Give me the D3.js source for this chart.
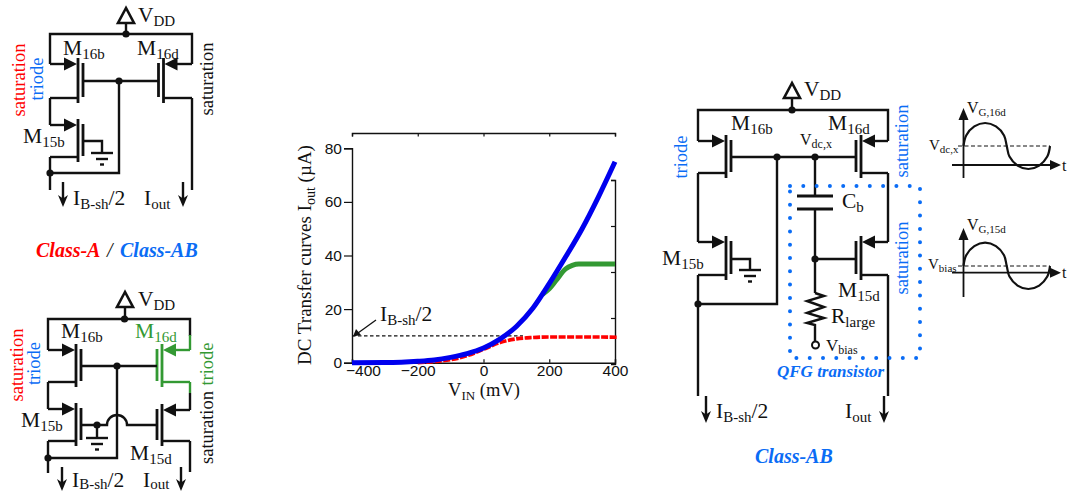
<!DOCTYPE html>
<html>
<head>
<meta charset="utf-8">
<script src="https://cdn.jsdelivr.net/npm/d3@7"></script>
<style>
  html, body { margin: 0; padding: 0; background: #fff; overflow: hidden; }
  svg { display: block; }
</style>
</head>
<body>
<div id="chart"></div>
<script>
// transfer curves (mV, uA)
const vinBlue = [-400, -300, -250, -200, -150, -100, -50, 0, 50, 100, 150, 200, 250, 300, 350, 400];
const iBlue = [0, 0.1, 0.2, 0.5, 1, 2, 3.4, 5.5, 8.8, 13.5, 20.3, 29.5, 39.5, 50, 62, 75];
const vinGreen = [180, 200, 220, 250, 270, 290, 320, 400];
const iGreen = [25.6, 27.6, 30.6, 35, 36.3, 36.8, 36.8, 36.8];
const vinRed = [-200, -150, -100, -50, 0, 50, 100, 150, 200, 300, 408];
const iRed = [0, 0.4, 1.1, 2.6, 5, 7.5, 8.9, 9.4, 9.6, 9.6, 9.5];
const vinBias = [-400, 120];
const iBias = [10, 10];
const xTicks = [-400, -200, 0, 200, 400];
const yTicks = [0, 20, 40, 60, 80];
const rightTicks = [1, 2, 3, 4];

// one period of the sketched gate waveforms, relative amplitude
const wavePhase = [0, 0.25, 1, 2, 3, 3.75, 4, 4.25, 5, 6, 7, 7.75, 8];
const waveValue = [0, 0.46, 0.85, 1, 0.85, 0.46, 0, -0.46, -0.85, -1, -0.85, -0.46, 0];

const width = 1067;
const height = 491;
const RED = "#ff0000";
const BLUE = "#0a6cf5";
const GREEN = "#339933";
const SERIF = "'Liberation Serif', serif";

const svg = d3.select("#chart").append("svg")
  .attr("width", width)
  .attr("height", height)
  .attr("viewBox", [0, 0, width, height]);

svg.append("rect").attr("width", width).attr("height", height).attr("fill", "#fff");

// text with subscripts: parts like ["M", ["16b"]]
function label(x, y, parts, opts = {}) {
  const size = opts.size || 21.5;
  const subSize = opts.subSize || Math.round(size * 0.7);
  const drop = opts.drop || Math.round(size * 0.2);
  const t = svg.append("text")
    .attr("transform", opts.rotate ? `translate(${x},${y}) rotate(-90)` : `translate(${x},${y})`)
    .attr("text-anchor", opts.anchor || "start")
    .attr("font-family", SERIF)
    .attr("font-size", size)
    .attr("font-weight", opts.weight || null)
    .attr("font-style", opts.style || null)
    .attr("fill", opts.color || "#111");
  let shifted = 0;
  parts.forEach((p) => {
    const isSub = Array.isArray(p);
    const want = isSub ? drop : 0;
    t.append("tspan")
      .attr("dy", want - shifted)
      .attr("font-size", isSub ? subSize : size)
      .text(isSub ? p[0] : p);
    shifted = want;
  });
  return t;
}

const vertical = (x, y, text, color) =>
  label(x, y, [text], { size: 18.5, color, rotate: true, anchor: "middle" });

function wire(points, color = "#111", w = 2.4, dash = null) {
  svg.append("path")
    .attr("d", d3.line()(points))
    .attr("fill", "none")
    .attr("stroke", color)
    .attr("stroke-width", w)
    .attr("stroke-dasharray", dash)
    .attr("stroke-linejoin", "miter");
}

function dot(x, y, r = 3.6) {
  svg.append("circle").attr("cx", x).attr("cy", y).attr("r", r).attr("fill", "#111");
}

function triangle(points, color = "#111") {
  svg.append("path").attr("d", d3.line()(points) + "Z").attr("fill", color);
}

// pmos device: x is the channel bar, dir=+1 has gate on the right and rails on the left
function pmos(x, sy, dy, rail, dir, color = "#111") {
  const gx = x + dir * 5;
  wire([[x, sy - 6], [x, dy + 5]], color, 2.8);
  wire([[gx, sy - 1], [gx, dy - 1]], color, 2.8);
  wire([[rail, sy], [x - dir * 10, sy]], color);
  triangle([[x - dir * 1, sy], [x - dir * 14, sy - 6.5], [x - dir * 14, sy + 6.5]], color);
  wire([[rail, dy], [x, dy]], color);
}

function ground(x, y, color = "#111") {
  wire([[x - 11, y], [x + 11, y]], color);
  wire([[x - 6, y + 6], [x + 6, y + 6]], color);
  wire([[x - 2, y + 11.5], [x + 2, y + 11.5]], color);
}

function vdd(x, y) {
  svg.append("path")
    .attr("d", d3.line()([[x, y], [x - 8, y + 15], [x + 8, y + 15]]) + "Z")
    .attr("fill", "#fff").attr("stroke", "#111").attr("stroke-width", 2.6);
}

function downArrow(x, y0, y1) {
  wire([[x, y0], [x, y1 - 6]]);
  triangle([[x, y1], [x - 5, y1 - 12], [x, y1 - 8.5], [x + 5, y1 - 12]]);
}

// ---------- plot ----------
const plot = { left: 352, right: 615, top: 133, bottom: 362.7 };
const x = d3.scaleLinear().domain([-400, 400]).range([plot.left, plot.right]);
const y = d3.scaleLinear().domain([0, 80]).range([plot.bottom, 148.3]);
const yRight = d3.scaleLinear().domain([0, 4]).range([364, 180]);

const fontAxis = (g) => g.selectAll("text")
  .attr("font-family", "'Liberation Sans', Arial, sans-serif")
  .attr("font-size", 15.5)
  .attr("fill", "#111");

const axisBottom = svg.append("g")
  .attr("transform", `translate(0,${plot.bottom})`)
  .call(d3.axisBottom(x).tickValues(xTicks).tickSize(-3.5).tickFormat(d3.format("d")))
  .call(fontAxis);
axisBottom.selectAll("text")
  .attr("y", 13.5)
  .attr("dy", 0)
  .attr("dx", (d) => (d === -400 ? 11 : 0));
const axisLeft = svg.append("g")
  .attr("transform", `translate(${plot.left},0)`)
  .call(d3.axisLeft(y).tickValues(yTicks).tickSize(8).tickPadding(2))
  .call(fontAxis);
const axisTop = svg.append("g")
  .attr("transform", `translate(0,${plot.top})`)
  .call(d3.axisTop(x).tickValues(xTicks).tickSize(-3.5).tickFormat(""));
const axisRight = svg.append("g")
  .attr("transform", `translate(${plot.right},0)`)
  .call(d3.axisRight(yRight).tickValues(rightTicks).tickSize(-4).tickFormat(""));
[axisBottom, axisLeft, axisTop, axisRight].forEach((a) => {
  a.selectAll("line").attr("stroke", "#111").attr("stroke-width", 1.2);
  a.select(".domain").attr("stroke", "#111").attr("stroke-width", 1.4);
});

const curve = (xs, ys) => d3.line().curve(d3.curveMonotoneX)
  .x((d) => x(d))
  .y((d, i) => y(ys[i]))(xs);

svg.append("path").attr("d", curve(vinBias, iBias))
  .attr("fill", "none").attr("stroke", "#111").attr("stroke-width", 1.1).attr("stroke-dasharray", "3.5 2.5");
svg.append("path").attr("d", curve(vinRed, iRed))
  .attr("fill", "none").attr("stroke", RED).attr("stroke-width", 3.6).attr("stroke-dasharray", "7 1.5");
svg.append("path").attr("d", curve(vinGreen, iGreen))
  .attr("fill", "none").attr("stroke", GREEN).attr("stroke-width", 5);
svg.append("path").attr("d", curve(vinBlue, iBlue))
  .attr("fill", "none").attr("stroke", "#0000ee").attr("stroke-width", 5);

label(380, 321, ["I", ["B-sh"], "/2"], { size: 21.5, subSize: 15 });
wire([[376, 320], [358, 333]], "#111", 1.3);
triangle([[353, 336.5], [356, 329], [361, 335]]);

label(484, 396, ["V", ["IN"], " (mV)"], { size: 18.5, subSize: 13, anchor: "middle" });
label(311, 255, ["DC Transfer curves I", ["out"], " (\u00b5A)"], { size: 19, subSize: 14, rotate: true, anchor: "middle" });

// ---------- top-left mirror ----------
vdd(126, 8);
wire([[126, 23], [126, 34]]);
wire([[50, 64], [50, 34], [192, 34], [192, 64]]);
dot(126, 34);
pmos(78, 64, 98, 50, 1);
pmos(163.5, 64, 98, 192, -1);
wire([[83, 81], [158.5, 81]]);
dot(119, 81);
wire([[119, 81], [119, 173], [50, 173]]);
pmos(78, 125, 157, 50, 1);
wire([[50, 98], [50, 125]]);
wire([[50, 157], [50, 190]]);
dot(50, 173);
wire([[83, 141], [102, 141], [102, 153]]);
ground(102, 153);
wire([[192, 98], [192, 190]]);
downArrow(63, 182, 207);
downArrow(183, 182, 207);
label(63, 55, ["M", ["16b"]]);
label(137, 55, ["M", ["16d"]]);
label(23, 143, ["M", ["15b"]]);
label(138, 22, ["V", ["DD"]]);
label(73, 205, ["I", ["B-sh"], "/2"]);
label(144, 205, ["I", ["out"]]);
vertical(25, 80, "saturation", RED);
vertical(43, 79, "triode", BLUE);
vertical(213, 79, "saturation", "#111");
label(36, 257, ["Class-A"], { size: 20, weight: "bold", style: "italic", color: RED });
label(107, 257, ["/"], { size: 20, style: "italic" });
label(120, 257, ["Class-AB"], { size: 20, weight: "bold", style: "italic", color: BLUE });

// ---------- bottom-left mirror ----------
vdd(125, 292);
wire([[125, 307], [125, 319]]);
wire([[48, 350], [48, 319], [190, 319], [190, 336]]);
dot(124.5, 319);
pmos(76, 350, 382, 48, 1);
pmos(162, 350, 382, 190, -1, GREEN);
wire([[190, 335], [190, 350]], GREEN);
wire([[190, 382], [190, 393]], GREEN);
wire([[81, 366], [157, 366]]);
dot(117, 366);
wire([[117, 366], [117, 458], [48, 458]]);
pmos(76, 409, 441, 48, 1);
wire([[48, 382], [48, 409]]);
wire([[48, 441], [48, 473]]);
dot(48, 458);
pmos(162, 410, 441, 190, -1);
wire([[190, 393], [190, 410]]);
wire([[190, 441], [190, 472]]);
svg.append("path")
  .attr("d", "M81,425H107A10,10 0 0 1 127,425H157")
  .attr("fill", "none").attr("stroke", "#111").attr("stroke-width", 2.4);
dot(97, 425);
wire([[97, 425], [97, 438]]);
ground(97, 438);
downArrow(62, 467, 491);
downArrow(181, 467, 491);
label(61, 338, ["M", ["16b"]]);
label(135, 338, ["M", ["16d"]], { color: GREEN });
label(21, 427, ["M", ["15b"]]);
label(130, 460, ["M", ["15d"]]);
label(138, 306, ["V", ["DD"]]);
label(72, 487, ["I", ["B-sh"], "/2"], { drop: 2 });
label(143, 487, ["I", ["out"]], { drop: 2 });
vertical(23, 365, "saturation", RED);
vertical(40, 363.5, "triode", BLUE);
vertical(213, 427.5, "saturation", "#111");
vertical(213, 364, "triode", GREEN);

// ---------- Class-AB with QFG transistor ----------
vdd(792, 83);
wire([[792, 98], [792, 110]]);
wire([[698, 141], [698, 110], [888, 110], [888, 141]]);
dot(792, 110);
pmos(726, 141, 173, 698, 1);
pmos(861, 141, 173, 888, -1);
wire([[731, 157], [856, 157]]);
dot(777, 157);
dot(815, 157);
wire([[777, 157], [777, 304], [698, 304]]);
pmos(726, 242, 275, 698, 1);
wire([[698, 173], [698, 242]]);
wire([[698, 275], [698, 396]]);
dot(698, 304);
wire([[731, 259], [750, 259], [750, 270]]);
ground(750, 270);
pmos(861, 242, 275, 888, -1);
wire([[888, 173], [888, 242]]);
wire([[888, 275], [888, 396]]);
wire([[815, 157], [815, 196]]);
wire([[797, 196], [833, 196]], "#111", 2.8);
wire([[797, 209], [833, 209]], "#111", 2.8);
wire([[815, 209], [815, 293]]);
dot(815, 259);
wire([[815, 259], [856, 259]]);
wire([[815, 293], [824, 296], [807, 301], [824, 307], [807, 313], [824, 318], [807, 323], [815, 325], [815, 341]]);
svg.append("circle").attr("cx", 815.5).attr("cy", 345).attr("r", 3.5)
  .attr("fill", "#fff").attr("stroke", "#111").attr("stroke-width", 2);
svg.append("rect").attr("x", 790).attr("y", 186).attr("width", 130).attr("height", 172)
  .attr("fill", "none").attr("stroke", BLUE).attr("stroke-width", 4)
  .attr("stroke-linecap", "round").attr("stroke-dasharray", "0 13.3");
downArrow(706, 396, 423);
downArrow(884, 396, 423);
label(804, 96, ["V", ["DD"]]);
label(731, 130, ["M", ["16b"]]);
label(828, 130, ["M", ["16d"]]);
label(800, 145, ["V", ["dc,x"]], { size: 16, subSize: 12 });
label(842, 208, ["C", ["b"]]);
label(662, 265, ["M", ["15b"]]);
label(838, 297, ["M", ["15d"]]);
label(831, 323, ["R", ["large"]]);
label(826, 351, ["V", ["bias"]], { size: 17, subSize: 12 });
label(716, 418, ["I", ["B-sh"], "/2"]);
label(845, 418, ["I", ["out"]]);
vertical(687, 157, "triode", BLUE);
vertical(908, 141, "saturation", BLUE);
vertical(908, 258, "saturation", BLUE);
label(777, 377, ["QFG transistor"], { size: 17, weight: "bold", style: "italic", color: BLUE });
label(755, 463, ["Class-AB"], { size: 20, weight: "bold", style: "italic", color: BLUE });

// ---------- gate waveforms ----------
function waveform(axisX, mid, base, top, bottom, peak, trough) {
  wire([[axisX, bottom], [axisX, top + 8]], "#111", 1.8);
  triangle([[axisX, top], [axisX - 5, top + 12], [axisX + 5, top + 12]]);
  wire([[952, base], [1052, base]], "#111", 1.8);
  triangle([[1061, base], [1050, base - 5], [1050, base + 5]]);
  wire([[958, mid], [1050, mid]], "#111", 1.2, "4 2.5");
  const px = d3.scaleLinear().domain([0, 8]).range([axisX, 1050]);
  const py = d3.scaleLinear().domain([-1, 0, 1]).range([trough, mid, peak]);
  svg.append("path")
    .attr("d", d3.line().curve(d3.curveCatmullRom.alpha(0.5))
      .x((d) => px(d))
      .y((d, i) => py(waveValue[i]))(wavePhase))
    .attr("fill", "none").attr("stroke", "#111").attr("stroke-width", 2.2);
}
waveform(963.5, 146, 165, 108, 178, 123, 169);
waveform(963.5, 266, 272.7, 228, 297, 242.7, 289);
label(967, 113, ["V", ["G,16d"]], { size: 16, subSize: 11 });
label(929, 150, ["V", ["dc,x"]], { size: 15, subSize: 11 });
label(1062, 171, ["t"], { size: 16 });
label(967, 230, ["V", ["G,15d"]], { size: 16, subSize: 11 });
label(928, 269, ["V", ["bias"]], { size: 15, subSize: 11 });
label(1062, 278, ["t"], { size: 16 });
</script>
</body>
</html>
